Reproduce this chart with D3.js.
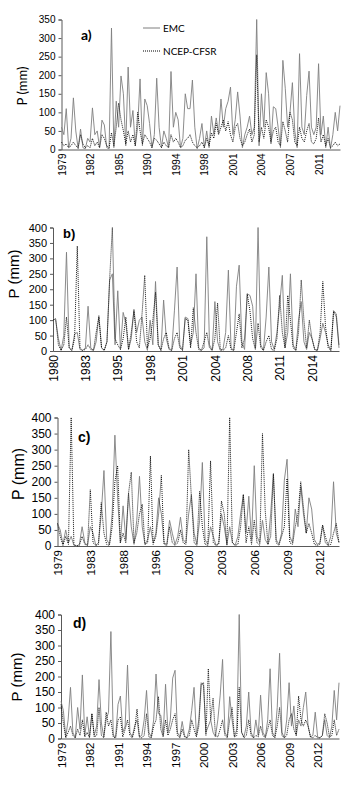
<!DOCTYPE html>
<html>
<head>
<meta charset="utf-8">
<script src="https://cdn.jsdelivr.net/npm/d3@7"></script>
<style>
  body { margin: 0; background: #fff; }
  svg { display: block; }
</style>
</head>
<body>
<svg id="chart"></svg>
<script>
// monthly-ish precipitation (mm)
const emcA = [60,40,110,5,30,139,50,2,55,5,2,30,20,112,40,50,5,79,66,5,2,327,5,130,60,198,150,10,222,60,105,10,60,190,10,136,118,70,5,40,192,60,5,50,30,5,210,60,100,80,5,30,150,110,110,187,60,2,30,70,5,50,5,90,40,85,45,136,60,110,130,168,40,80,155,90,5,40,60,90,40,60,350,10,150,60,207,150,15,115,110,60,5,240,165,60,100,180,50,5,258,60,40,145,211,60,40,60,231,40,90,5,60,2,40,100,50,118];
const cfsrA = [20,10,15,5,10,20,10,5,40,15,5,10,5,30,10,20,5,40,30,10,5,45,10,60,125,80,50,15,50,20,40,10,100,50,15,40,30,20,5,30,25,15,5,20,10,5,40,20,30,20,5,10,25,30,40,20,10,5,10,20,5,30,10,45,30,70,40,60,80,50,75,40,20,60,70,30,10,20,40,55,20,40,255,20,60,30,80,60,20,50,60,20,10,75,50,20,100,80,20,10,60,30,20,50,70,20,15,30,85,20,40,10,30,5,10,20,10,15];
const labelsA = ["1979","1982","1985","1990","1994","1998","2001","2004","2007","2011"];

const emcB = [105,100,40,2,50,320,10,2,55,60,5,2,10,145,10,2,30,115,10,2,30,230,250,20,195,5,125,90,5,40,135,60,100,110,30,2,100,20,225,20,2,165,40,5,2,130,272,20,2,110,105,20,60,250,10,2,10,370,20,2,160,30,2,5,60,262,10,2,210,278,30,5,185,180,145,10,400,20,2,110,272,30,5,60,150,245,10,60,250,20,2,100,160,30,5,60,40,5,2,40,90,60,20,2,130,110,10];
const cfsrB = [100,105,20,2,20,110,10,2,40,340,10,2,5,20,5,2,60,110,10,2,30,235,400,40,20,5,40,110,5,60,130,30,10,120,245,10,40,100,190,20,2,40,60,10,2,40,60,10,2,105,100,10,140,60,5,2,30,60,10,2,40,155,5,2,10,50,5,2,60,120,10,40,185,130,40,5,90,10,2,30,50,5,2,40,180,60,10,180,100,10,2,60,230,100,10,100,40,5,2,60,225,80,10,2,130,120,20];
const labelsB = ["1980","1983","1995","1998","2001","2004","2008","2011","2014"];

const emcC = [70,50,5,50,10,30,2,0,5,60,10,2,60,40,2,10,100,235,20,5,100,345,150,10,125,20,165,60,5,80,217,60,5,20,60,10,40,150,100,10,5,80,40,5,30,90,20,10,100,160,40,5,80,260,20,5,60,30,2,10,100,60,5,60,10,2,30,100,160,40,155,20,250,30,10,80,20,5,100,225,20,5,40,205,270,30,10,115,60,185,100,40,150,115,20,5,10,65,10,2,30,200,40,10];
const cfsrC = [70,30,2,30,5,400,5,0,2,30,5,2,175,10,2,5,135,40,5,2,60,200,250,10,40,10,165,230,10,40,100,130,5,10,280,5,30,100,220,5,2,60,10,2,10,50,10,5,300,150,10,2,170,60,5,2,265,10,2,5,140,100,2,400,10,2,5,60,160,10,60,5,80,10,2,350,110,5,30,225,10,2,30,60,210,10,5,60,100,200,120,40,70,40,5,2,5,65,30,2,5,40,70,10];
const labelsC = ["1979","1983","1988","1996","2000","2003","2006","2009","2012"];

const emcD = [120,90,5,60,165,20,2,100,30,205,10,70,5,80,10,40,190,50,5,60,85,345,10,5,110,137,20,40,237,20,5,40,60,5,10,60,155,20,5,60,208,80,75,10,175,20,60,195,220,20,5,55,10,2,30,90,165,10,60,180,170,20,40,60,20,5,60,140,255,20,5,135,60,5,30,400,20,5,40,150,20,2,60,10,140,20,5,60,225,20,5,100,275,20,2,60,180,40,105,10,60,40,100,150,40,5,10,85,5,2,10,60,10,2,40,155,60,180];
const cfsrD = [110,50,2,20,40,10,2,30,10,60,5,20,2,80,5,10,100,10,2,85,40,60,5,2,60,70,5,30,60,10,2,30,95,5,2,10,80,5,2,40,60,135,30,5,60,10,30,60,80,10,2,30,5,2,10,60,30,5,40,175,180,10,225,60,130,10,5,30,60,10,2,60,100,5,10,165,20,2,10,60,10,2,10,5,40,10,2,30,60,10,2,40,100,10,2,10,60,80,30,10,137,60,40,60,40,5,2,10,2,2,10,80,50,5,10,60,10,30];
const labelsD = ["1979","1982","1991","1994","1997","2000","2003","2006","2009","2012"];

const yTicks350 = [0,50,100,150,200,250,300,350];
const yTicks400 = [0,50,100,150,200,250,300,350,400];

const width = 354, height = 785;
const svg = d3.select("#chart").attr("width", width).attr("height", height);

const panels = [
  { emc: emcA, cfsr: cfsrA, labels: labelsA, yTicks: yTicks350, tag: "a)",
    left: 61.5, right: 340, top: 19.5, bottom: 149.5, font: "Lato, sans-serif",
    ySize: 10, xSize: 10, titleSize: 13, titleX: 22, titleY: 86, tagX: 81, tagY: 40, tagSize: 14 },
  { emc: emcB, cfsr: cfsrB, labels: labelsB, yTicks: yTicks400, tag: "b)",
    left: 53, right: 339, top: 227.5, bottom: 351, font: "'Liberation Sans', Arial, sans-serif",
    ySize: 11, xSize: 12, titleSize: 15, titleX: 14, titleY: 274, tagX: 63, tagY: 238, tagSize: 13 },
  { emc: emcC, cfsr: cfsrC, labels: labelsC, yTicks: yTicks400, tag: "c)",
    left: 57.5, right: 339, top: 417.5, bottom: 546, font: "'Liberation Sans', Arial, sans-serif",
    ySize: 12, xSize: 11.5, titleSize: 16, titleX: 18, titleY: 474, tagX: 78, tagY: 442, tagSize: 14 },
  { emc: emcD, cfsr: cfsrD, labels: labelsD, yTicks: yTicks400, tag: "d)",
    left: 61, right: 339, top: 614.5, bottom: 738.5, font: "'Liberation Sans', Arial, sans-serif",
    ySize: 12, xSize: 11.5, titleSize: 15, titleX: 17, titleY: 677, tagX: 73, tagY: 628, tagSize: 14 }
];

panels.forEach(p => {
  const g = svg.append("g").style("font-family", p.font);

  const x = d3.scaleLinear()
    .domain([0, p.emc.length - 1])
    .range([p.left, p.right]);
  const y = d3.scaleLinear()
    .domain([0, d3.max(p.yTicks)])
    .range([p.bottom, p.top]);

  // y axis
  const yAxis = g.append("g")
    .attr("transform", `translate(${p.left},0)`)
    .call(d3.axisLeft(y).tickValues(p.yTicks).tickSize(3).tickPadding(3));
  yAxis.selectAll("text").style("font-size", p.ySize + "px").attr("fill", "#000");

  // x axis, labels every 12 points, rotated
  const xAxis = g.append("g")
    .attr("transform", `translate(0,${p.bottom})`)
    .call(d3.axisBottom(x)
      .tickValues(p.labels.map((_, i) => i * 12))
      .tickFormat((d, i) => p.labels[i])
      .tickSize(0));
  xAxis.selectAll("text")
    .attr("transform", "rotate(-90)")
    .attr("text-anchor", "end")
    .attr("x", -4)
    .attr("y", 0)
    .attr("dy", "0.35em")
    .style("font-size", p.xSize + "px")
    .attr("fill", "#000");

  g.selectAll(".domain").attr("stroke", "#595959");
  g.selectAll(".tick line").attr("stroke", "#595959");

  const line = d3.line()
    .x((d, i) => x(i))
    .y(d => y(d));

  g.append("path")
    .datum(p.emc)
    .attr("fill", "none")
    .attr("stroke", "#7f7f7f")
    .attr("stroke-width", 0.9)
    .attr("d", line);

  g.append("path")
    .datum(p.cfsr)
    .attr("fill", "none")
    .attr("stroke", "#000")
    .attr("stroke-width", 0.9)
    .attr("stroke-dasharray", "1,1")
    .attr("d", line);

  g.append("text")
    .attr("transform", `translate(${p.titleX},${p.titleY}) rotate(-90)`)
    .attr("text-anchor", "middle")
    .attr("dy", "0.35em")
    .style("font-size", p.titleSize + "px")
    .text("P (mm)");

  g.append("text")
    .attr("x", p.tagX)
    .attr("y", p.tagY)
    .style("font-size", p.tagSize + "px")
    .style("font-weight", "bold")
    .text(p.tag);
});

// legend (top panel only)
const legend = svg.append("g").style("font-family", "Lato, sans-serif").style("font-size", "10px");
legend.append("line").attr("x1", 143).attr("x2", 160).attr("y1", 28).attr("y2", 28)
  .attr("stroke", "#7f7f7f").attr("stroke-width", 1);
legend.append("text").attr("x", 163).attr("y", 28).attr("dy", "0.35em").text("EMC");
legend.append("line").attr("x1", 143).attr("x2", 161).attr("y1", 51).attr("y2", 51)
  .attr("stroke", "#000").attr("stroke-width", 1).attr("stroke-dasharray", "1,1");
legend.append("text").attr("x", 163).attr("y", 51).attr("dy", "0.35em").text("NCEP-CFSR");
</script>
</body>
</html>
